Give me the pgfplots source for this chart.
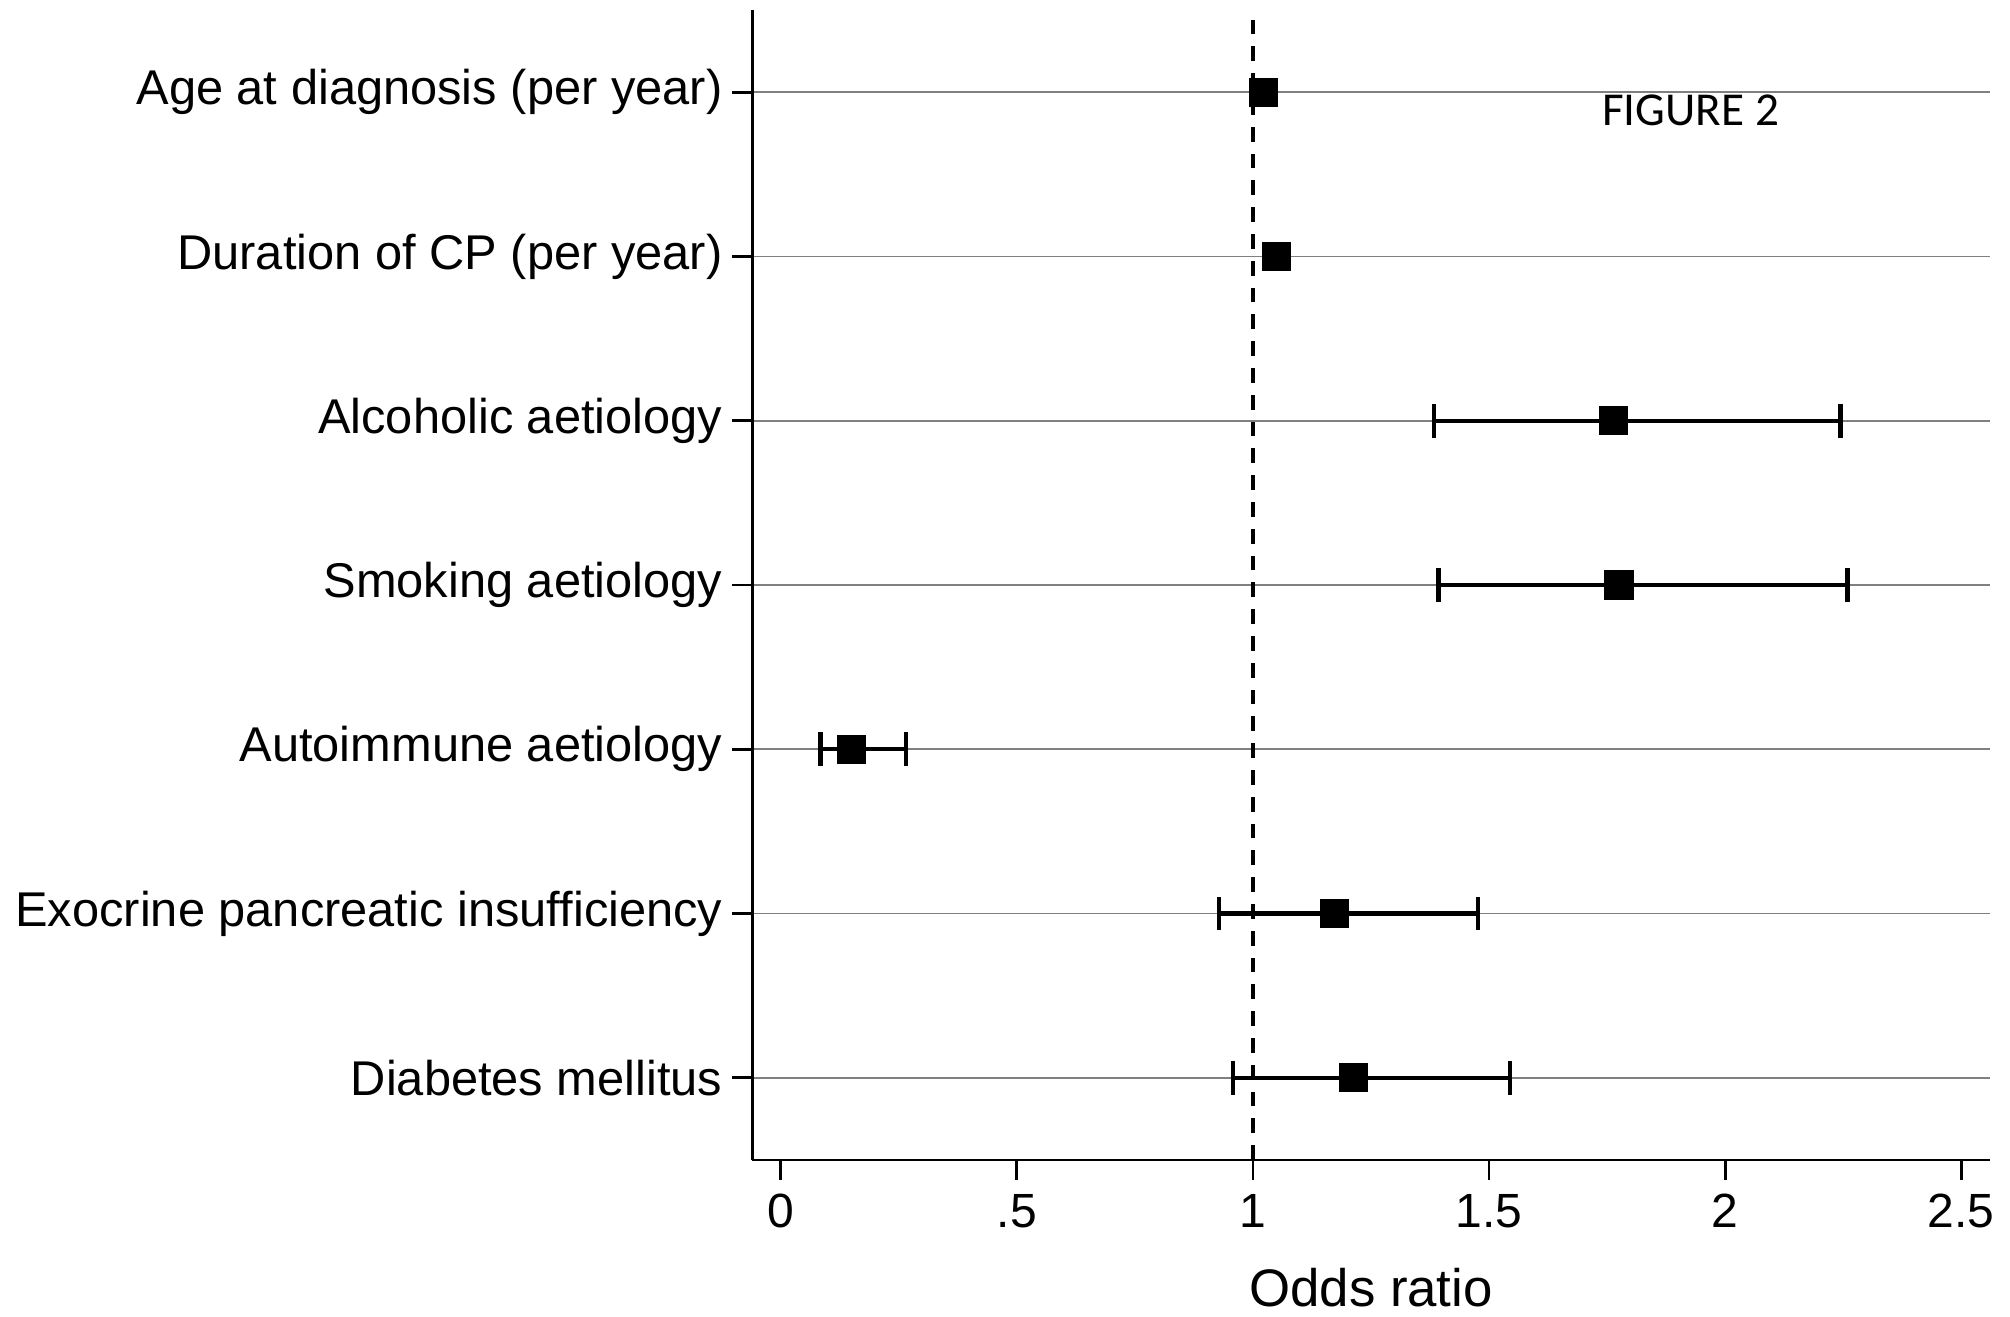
\documentclass[border=0pt]{standalone}
\usepackage{pgfplots}
\pgfplotsset{compat=1.18}
\usepackage{pgfplotstable}
\usepackage{fontspec}
\setmainfont{Liberation Sans}
\newfontfamily\figfont{Carlito}

\pgfplotstableread{
row or
7   1.023
6   1.050
}\ordatanoci

\pgfplotstableread{
row or  em    ep
5   1.763 0.379 0.481
4   1.775 0.382 0.484
3   0.150 0.066 0.116
2   1.173 0.245 0.304
1   1.213 0.256 0.332
}\ordata

\begin{document}
\begin{tikzpicture}
\path (0,0) rectangle (502.5pt,329pt);
\begin{axis}[
  at={(188.1pt,39pt)}, anchor=south west,
  width=309.3pt, height=287.5pt, scale only axis,
  xmin=-0.06, xmax=2.56, ymin=0.5, ymax=7.5,
  axis x line*=bottom, axis y line*=left,
  xtick={0,0.5,1,1.5,2,2.5}, xticklabels={0,.5,1,1.5,2,2.5},
  ytick={1,2,3,4,5,6,7},
  yticklabels={Diabetes mellitus,Exocrine pancreatic insufficiency,Autoimmune aetiology,Smoking aetiology,Alcoholic aetiology,Duration of CP (per year),Age at diagnosis (per year)},
  tick align=outside, major tick length=5pt,
  ymajorgrids, grid style={black!50, line width=0.4pt},
  tick style={black, line width=0.7pt},
  axis line style={black, line width=0.7pt},
  /pgf/number format/assume math mode=true,
  xticklabel style={font=\fontsize{12}{14}\selectfont, anchor=center, yshift=-7.8pt, inner sep=0pt},
  yticklabel style={font=\fontsize{12.2}{14}\selectfont, anchor=east, inner sep=0pt, xshift=-2.3pt},
  xlabel={Odds ratio},
  xlabel style={font=\fontsize{13.2}{15}\selectfont, at={(axis description cs:0.5,0)}, anchor=center, yshift=-32pt, inner sep=0pt},
  clip=false,
]
\addplot[black, line width=0.9pt, dash pattern=on 3.7pt off 3pt] coordinates {(1,0.5) (1,7.5)};
\addplot[only marks, mark=square*, mark size=3.45pt, black]
  table[x=or, y=row] {\ordatanoci};
\addplot[only marks, mark=square*, mark size=3.45pt, black,
  error bars/.cd, x dir=both, x explicit,
  error bar style={line width=1.05pt},
  error mark options={rotate=90, mark size=4.2pt, line width=1.05pt}]
  table[x=or, y=row, x error plus=ep, x error minus=em] {\ordata};
\node[font=\figfont\fontsize{11.8}{14}\selectfont] at (axis cs:1.927,6.89) {FIGURE 2};
\end{axis}
\end{tikzpicture}
\end{document}
